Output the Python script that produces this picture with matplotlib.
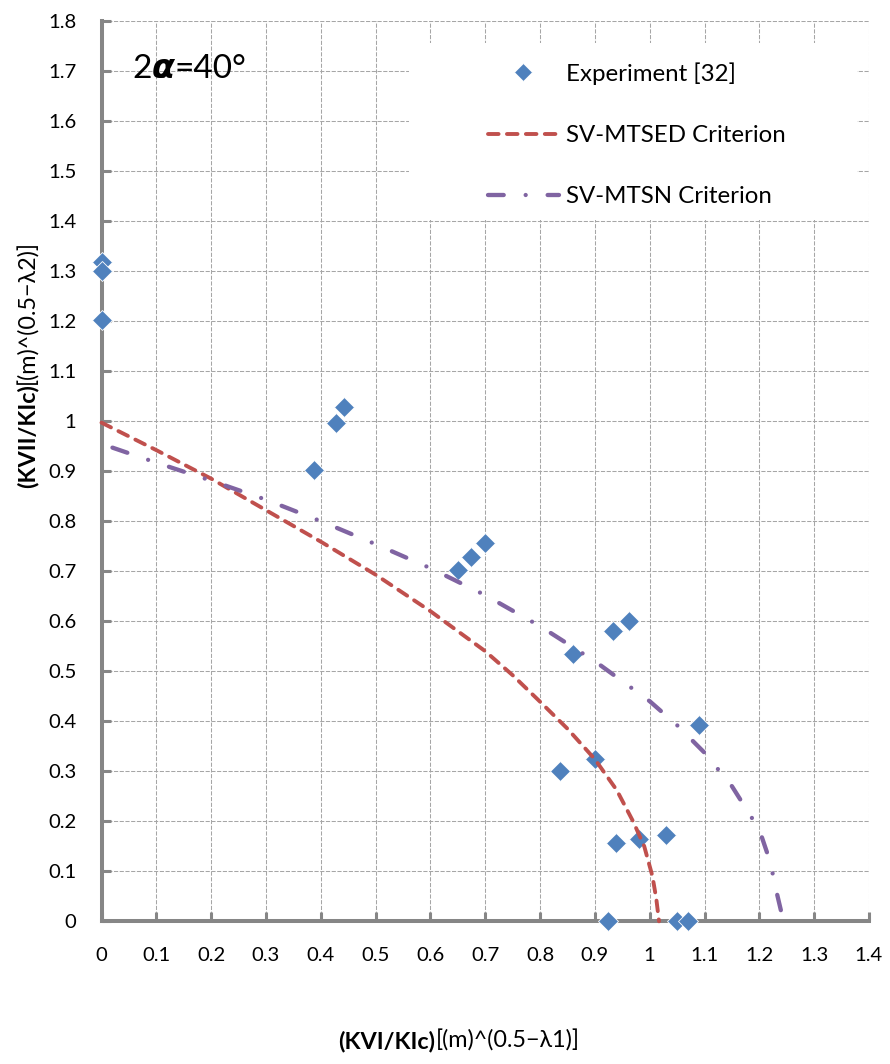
import matplotlib
matplotlib.use("Agg")
import matplotlib.pyplot as plt
from matplotlib.patches import Rectangle

# ---------------- data ----------------
exp_x = [0.0, 0.0, 0.0, 0.388, 0.428, 0.442, 0.650, 0.674, 0.699, 0.836, 0.860,
         0.900, 0.933, 0.962, 0.938, 0.980, 1.030, 1.089, 0.924, 1.050, 1.070]
exp_y = [1.318, 1.300, 1.202, 0.902, 0.997, 1.028, 0.702, 0.728, 0.756, 0.300, 0.534,
         0.324, 0.580, 0.600, 0.156, 0.164, 0.172, 0.392, 0.0, 0.0, 0.0]

mtsed_x = [0.0, 0.1, 0.2, 0.3, 0.4, 0.5, 0.6, 0.7, 0.75, 0.8, 0.85, 0.9, 0.94,
           0.97, 0.99, 1.005, 1.012, 1.017]
mtsed_y = [0.997, 0.942, 0.885, 0.822, 0.759, 0.693, 0.620, 0.540, 0.492, 0.439,
           0.385, 0.324, 0.262, 0.199, 0.150, 0.090, 0.045, 0.0]

mtsn_x = [0.02, 0.1, 0.2, 0.3, 0.4, 0.5, 0.6, 0.7, 0.8, 0.9, 1.0, 1.05, 1.1,
          1.15, 1.2, 1.22, 1.23, 1.244]
mtsn_y = [0.947, 0.917, 0.881, 0.843, 0.800, 0.754, 0.706, 0.652, 0.590, 0.520,
          0.440, 0.392, 0.337, 0.270, 0.183, 0.118, 0.065, 0.0]

xticks = [0, 0.1, 0.2, 0.3, 0.4, 0.5, 0.6, 0.7, 0.8, 0.9, 1.0, 1.1, 1.2, 1.3, 1.4]
xticklabels = ['0', '0.1', '0.2', '0.3', '0.4', '0.5', '0.6', '0.7', '0.8', '0.9',
               '1', '1.1', '1.2', '1.3', '1.4']
yticks = [0, 0.1, 0.2, 0.3, 0.4, 0.5, 0.6, 0.7, 0.8, 0.9, 1.0, 1.1, 1.2, 1.3,
          1.4, 1.5, 1.6, 1.7, 1.8]
yticklabels = ['0', '0.1', '0.2', '0.3', '0.4', '0.5', '0.6', '0.7', '0.8', '0.9',
               '1', '1.1', '1.2', '1.3', '1.4', '1.5', '1.6', '1.7', '1.8']

labels = ['Experiment [32]', 'SV-MTSED Criterion', 'SV-MTSN Criterion']

# ---------------- style ----------------
FONT = ['Lato', 'DejaVu Sans']
plt.rcParams['font.family'] = FONT
BLUE = '#4F81BD'
RED = '#C0504D'
PURPLE = '#8064A2'
AXGRAY = '#868686'

W, H = 890, 1064
fig = plt.figure(figsize=(W / 100, H / 100), dpi=100)
ax = fig.add_axes([101.5 / W, 1 - 921.3 / H, (869 - 101.5) / W, (921.3 - 21) / H])

ax.set_xlim(0, 1.4)
ax.set_ylim(0, 1.8)
ax.set_xticks(xticks)
ax.set_xticklabels(xticklabels)
ax.set_yticks(yticks)
ax.set_yticklabels(yticklabels)

ax.set_axisbelow(True)
ax.grid(True, color='#A6A6A6', lw=0.75, linestyle=(0, (4, 1.5)))
for s in ('top', 'right'):
    ax.spines[s].set_visible(False)
for s in ('left', 'bottom'):
    ax.spines[s].set_color(AXGRAY)
    ax.spines[s].set_linewidth(2.9)
ax.tick_params(axis='both', direction='in', length=6.5, width=2.2, color=AXGRAY,
               labelsize=14.6, labelcolor='black')
ax.tick_params(axis='y', pad=18)
ax.tick_params(axis='x', pad=18.5)

# legend background (white box)
ax.add_patch(Rectangle((0.4003, 0.7789), 0.5841, 0.1967, transform=ax.transAxes,
                       facecolor='white', edgecolor='none', zorder=1))

# experiment markers
ax.plot(exp_x, exp_y, linestyle='none', marker='D', markersize=9.8,
        markerfacecolor=BLUE, markeredgecolor='white', markeredgewidth=0.6,
        clip_on=False, zorder=3, label=labels[0])

lw_red = 2.8
red_line, = ax.plot(mtsed_x, mtsed_y, color=RED, lw=lw_red, linestyle='--',
                    dash_capstyle='round', zorder=4, label=labels[1], clip_on=False)
red_line.set_dashes((2.72, 2.15))

lw_pur = 3.1
pur_line, = ax.plot(mtsn_x, mtsn_y, color=PURPLE, lw=lw_pur, linestyle='-.',
                    dash_capstyle='round', zorder=4, label=labels[2], clip_on=False)
pur_line.set_dashes((3.65, 5.1, 0.001, 5.1))

leg = ax.legend(loc='upper left', bbox_to_anchor=((488 - 101.5) / (869 - 101.5),
                                                  (921.3 - 62) / (921.3 - 21)),
                frameon=False, fontsize=17.3, borderpad=0, borderaxespad=0,
                handlelength=2.95, handletextpad=0.28, labelspacing=1.68,
                markerscale=0.95)
leg.set_zorder(5)

# ---------------- mixed-style texts ----------------
fig.canvas.draw()
r = fig.canvas.get_renderer()


def px_to_fig(xp, yp):
    return xp / W, 1 - yp / H


# x label
xb_y = 1048
t1 = fig.text(0, 0, '(KVI/KIc)', fontsize=16.8, fontweight='bold', ha='left', va='baseline')
t2 = fig.text(0, 0, '[(m)^(0.5\u2212\u03bb1)]', fontsize=16.8, ha='left', va='baseline')
w1 = t1.get_window_extent(r).width
w2 = t2.get_window_extent(r).width
left = 459 - (w1 + w2) / 2
t1.set_position(px_to_fig(left, xb_y))
t2.set_position(px_to_fig(left + w1, xb_y))

# y label (rotated)
yb_x = 34
u1 = fig.text(0, 0, '(KVII/KIc)', fontsize=16.8, fontweight='bold', rotation=90,
              rotation_mode='anchor', ha='left', va='baseline')
u2 = fig.text(0, 0, '[(m)^(0.5\u2212\u03bb2)]', fontsize=16.8, rotation=90,
              rotation_mode='anchor', ha='left', va='baseline')
h1 = u1.get_window_extent(r).height
h2 = u2.get_window_extent(r).height
bottom = 364 + (h1 + h2) / 2
u1.set_position(px_to_fig(yb_x, bottom))
u2.set_position(px_to_fig(yb_x, bottom - h1))

# 2α=40°
a_y = 78
a1 = fig.text(0, 0, '2', fontsize=24, ha='left', va='baseline')
a2 = fig.text(0, 0, '\u03b1', fontsize=24, ha='left', va='baseline',
              family=['DejaVu Sans'], fontweight='bold', fontstyle='italic')
a3 = fig.text(0, 0, '=40\u00b0', fontsize=24, ha='left', va='baseline')
x0 = 132
a1.set_position(px_to_fig(x0, a_y))
x0 += a1.get_window_extent(r).width
a2.set_position(px_to_fig(x0, a_y))
x0 += a2.get_window_extent(r).width
a3.set_position(px_to_fig(x0, a_y))

fig.savefig('out.png', dpi=100)
